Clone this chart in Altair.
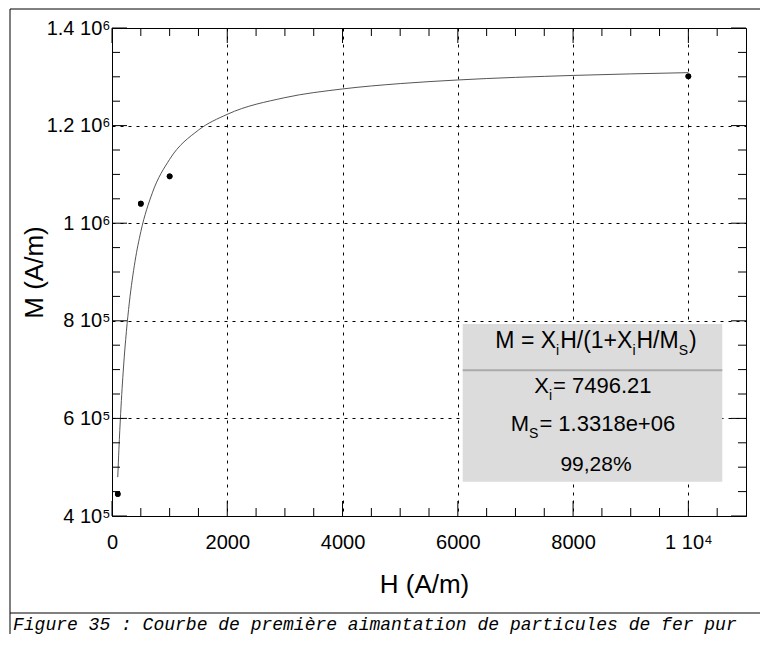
import altair as alt
import pandas as pd

# ---- data ----
H_points = [100, 500, 1000, 10000]
M_points = [445000, 1040000, 1096000, 1301000]

curve_H = [100, 120, 150, 200, 250, 300, 400, 500, 700, 1000, 1500, 2000,
           3000, 4000, 5000, 6000, 8000, 10000]
curve_M = [479600, 536900, 609700, 705300, 778500, 836400, 922200, 982600,
           1062200, 1130900, 1190800, 1223100, 1257300, 1275100, 1286100,
           1293500, 1302800, 1308500]

x_major = [0, 2000, 4000, 6000, 8000, 10000]
x_labels = ["0", "2000", "4000", "6000", "8000", "1 10⁴"]
y_major = [400000, 600000, 800000, 1000000, 1200000, 1400000]
y_labels = ["4 10⁵", "6 10⁵", "8 10⁵", "1 10⁶", "1.2 10⁶", "1.4 10⁶"]
x_minor = [v for v in range(500, 11000, 500) if v not in x_major]
y_minor = [v for v in range(450000, 1400000, 50000) if v not in y_major]

caption = "Figure 35 : Courbe de première aimantation de particules de fer pur"

# legend box lines: (text, is_subscript) pieces
legend_lines = [
    [("M = X", False), ("i", True), ("H/(1+X", False), ("i", True),
     ("H/M", False), ("S", True), (")", False)],
    [("X", False), ("i", True), (" = 7496.21", False)],
    [("M", False), ("S", True), (" = 1.3318e+06", False)],
    [("99,28%", False)],
]

# ---- layout ----
W, HT = 634, 488
X_DOM = [0, 11000]
Y_DOM = [400000, 1400000]
FONT = "Liberation Sans"

xscale = alt.Scale(domain=X_DOM, nice=False, zero=False)
yscale = alt.Scale(domain=Y_DOM, nice=False, zero=False)


def label_expr(values, labels):
    expr = "''"
    for v, l in reversed(list(zip(values, labels))):
        expr = f"datum.value == {v} ? '{l}' : ({expr})"
    return expr


x_axis = alt.Axis(values=x_major, labelExpr=label_expr(x_major, x_labels),
                  ticks=False, domain=False, grid=True, gridColor="black",
                  gridDash=[3, 5], gridWidth=1, gridOpacity=1,
                  labelFont=FONT, labelFontSize=20, labelColor="black",
                  labelBaseline="alphabetic", labelPadding=32, labelFlush=False,
                  title="H (A/m)", titleFont=FONT, titleFontSize=26,
                  titleFontWeight="normal", titleColor="black",
                  titleX=312, titleY=76, titleBaseline="alphabetic",
                  titleAlign="center")
y_axis = alt.Axis(values=y_major, labelExpr=label_expr(y_major, y_labels),
                  ticks=False, domain=False, grid=True, gridColor="black",
                  gridDash=[3, 5], gridWidth=1, gridOpacity=1,
                  labelFont=FONT, labelFontSize=20, labelColor="black",
                  labelPadding=2, labelFlush=False,
                  title="M (A/m)", titleFont=FONT, titleFontSize=26,
                  titleFontWeight="normal", titleColor="black",
                  titleX=-70, titleY=244, titleAngle=270,
                  titleBaseline="alphabetic", titleAlign="center")

X_ENC = alt.X("H:Q", scale=xscale, axis=x_axis)
Y_ENC = alt.Y("M:Q", scale=yscale, axis=y_axis)

pts_df = pd.DataFrame({"H": H_points, "M": M_points})
curve_df = pd.DataFrame({"H": curve_H, "M": curve_M})

points = alt.Chart(pts_df).mark_circle(size=32, color="black", opacity=1).encode(
    x=X_ENC, y=Y_ENC)

curve = alt.Chart(curve_df).mark_line(color="#555555", strokeWidth=1,
                                      interpolate="monotone").encode(
    x=X_ENC, y=Y_ENC)


def xticks(values, length):
    df = pd.DataFrame({"H": values})
    base = alt.Chart(df).mark_rule(color="black", strokeWidth=1)
    return [base.encode(x=X_ENC, y=alt.value(HT), y2=alt.value(HT - length)),
            base.encode(x=X_ENC, y=alt.value(0), y2=alt.value(length))]


def yticks(values, length):
    df = pd.DataFrame({"M": values})
    base = alt.Chart(df).mark_rule(color="black", strokeWidth=1)
    return [base.encode(y=Y_ENC, x=alt.value(0), x2=alt.value(length)),
            base.encode(y=Y_ENC, x=alt.value(W), x2=alt.value(W - length))]


one = alt.Data(values=[{"k": 1}])


def txt(s, x, y, size, align="left", font=FONT, **kw):
    return alt.Chart(one).mark_text(text=s, align=align, baseline="alphabetic",
                                    fontSize=size, font=font, color="black",
                                    **kw).encode(x=alt.value(x), y=alt.value(y))


def rule(x, x2, y, y2, color="black", width=1):
    return alt.Chart(one).mark_rule(color=color, strokeWidth=width).encode(
        x=alt.value(x), x2=alt.value(x2), y=alt.value(y), y2=alt.value(y2))


# Arial / Liberation Sans advance widths (per 1000 em)
ADV = {"M": 833, " ": 278, "=": 584, "X": 667, "H": 722, "/": 278, "(": 333,
       ")": 333, "+": 584, "i": 222, "S": 667, ".": 278, "e": 556, ",": 278,
       "%": 889}


def text_width(s, size):
    return sum(ADV.get(c, 556) for c in s) * size / 1000.0


def compose(pieces, cx, base, size=21, sub_size=14, sub_dy=7, sub_gap=1):
    widths = []
    for s, sub in pieces:
        w = text_width(s, sub_size if sub else size)
        widths.append(w + (sub_gap if sub else 0))
    x = cx - sum(widths) / 2
    out = []
    for (s, sub), w in zip(pieces, widths):
        if sub:
            out.append(txt(s, x, base + sub_dy, sub_size))
        else:
            out.append(txt(s, x, base, size))
        x += w
    return out


box = alt.Chart(one).mark_rect(fill="#dcdcdc").encode(
    x=alt.value(350.7), x2=alt.value(610.3), y=alt.value(296), y2=alt.value(453.7))
box_sep = rule(350.7, 610.3, 342.3, 342.3, color="#aaaaaa", width=2)

legend_text = []
for pieces, base, size in zip(legend_lines, [320.3, 364.7, 402.7, 442.7],
                              [23, 22, 22, 21]):
    legend_text += compose(pieces, 484, base, size=size)

# outer figure frame (extends past the right and bottom page edges)
frame_box = alt.Chart(one).mark_rect(fill=None, stroke="black", strokeWidth=1).encode(
    x=alt.value(-102), x2=alt.value(720), y=alt.value(-19), y2=alt.value(700))
frame = [frame_box, rule(-102, 720, 585, 585)]
cap = txt(caption, -99, 602, 18, font="Liberation Mono", fontStyle="italic")

layers = ([points, box, box_sep] + legend_text + [curve]
          + xticks(x_major, 15) + xticks(x_minor, 8)
          + yticks(y_major, 15) + yticks(y_minor, 8)
          + frame + [cap, points])

chart = alt.layer(*layers).properties(
    width=W, height=HT,
    autosize=alt.AutoSizeParams(type="none"),
    padding={"left": 104, "top": 20, "right": 14, "bottom": 118},
    background="white",
).configure_view(stroke="black", strokeWidth=1)

chart.save("out.html", embed_options={"renderer": "svg", "actions": False})
